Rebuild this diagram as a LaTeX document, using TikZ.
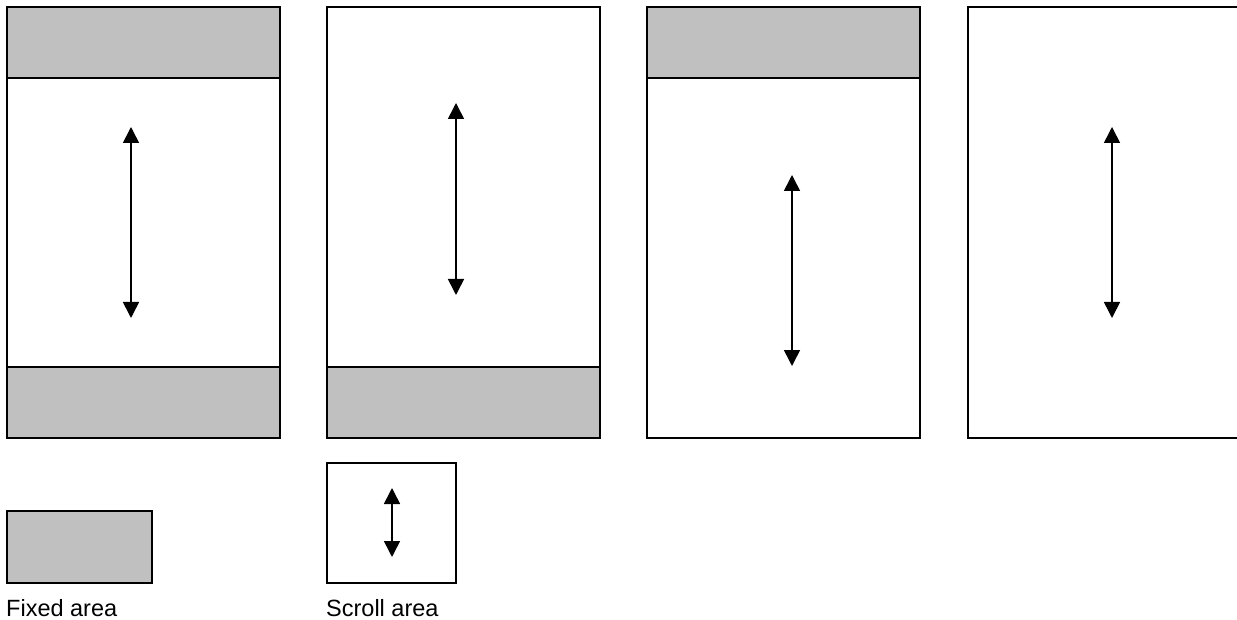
\documentclass[tikz,border=0pt]{standalone}
\usepackage{fontspec}
\setmainfont{Liberation Sans}
\usetikzlibrary{arrows.meta}
\definecolor{fixgray}{RGB}{192,192,192}
\tikzset{
  frame/.style={draw=black, line width=1.6pt, fill=white, inner sep=0pt, outer sep=0pt, anchor=north west, minimum width=273pt, minimum height=431pt},
  fixbar/.style={draw=black, line width=1.6pt, fill=fixgray, inner sep=0pt, outer sep=0pt, anchor=north west, minimum width=273pt, minimum height=71pt},
  scrollarrow/.style={line width=1.6pt, {Triangle[width=16pt,length=16pt]}-{Triangle[width=16pt,length=16pt]}},
  legendtext/.style={inner sep=0pt, anchor=base west, font=\fontsize{23.5pt}{28pt}\selectfont}
}
\begin{document}
\begin{tikzpicture}[x=1pt,y=-1pt]
\useasboundingbox (0,0) rectangle (1237,620);
\clip (0,0) rectangle (1237,620);
% frame 1
\node[frame] (f1) at (7,7) {};
\node[fixbar] (f1t) at (7,7) {};
\node[fixbar] (f1b) at (7,367) {};
\coordinate (a1t) at (131,127);
\coordinate (a1b) at (131,318);
\draw[scrollarrow] (a1t) -- (a1b);
% frame 2
\node[frame] (f2) at (327,7) {};
\node[fixbar] (f2b) at (327,367) {};
\coordinate (a2t) at (456,103);
\coordinate (a2b) at (456,295);
\draw[scrollarrow] (a2t) -- (a2b);
% frame 3
\node[frame] (f3) at (647,7) {};
\node[fixbar] (f3t) at (647,7) {};
\coordinate (a3t) at (792,175);
\coordinate (a3b) at (792,366);
\draw[scrollarrow] (a3t) -- (a3b);
% frame 4
\node[frame] (f4) at (968,7) {};
\coordinate (a4t) at (1112,127);
\coordinate (a4b) at (1112,318);
\draw[scrollarrow] (a4t) -- (a4b);
% legend
\node[fixbar, minimum width=145pt, minimum height=72pt] (lf) at (7,511) {};
\node[frame, minimum width=129pt, minimum height=120pt] (ls) at (327,463) {};
\coordinate (lst) at (392,488);
\coordinate (lsb) at (392,557);
\draw[scrollarrow] (lst) -- (lsb);
\node[legendtext] (tf) at (6,616) {Fixed area};
\node[legendtext] (ts) at (326,616) {Scroll area};
\end{tikzpicture}
\end{document}
